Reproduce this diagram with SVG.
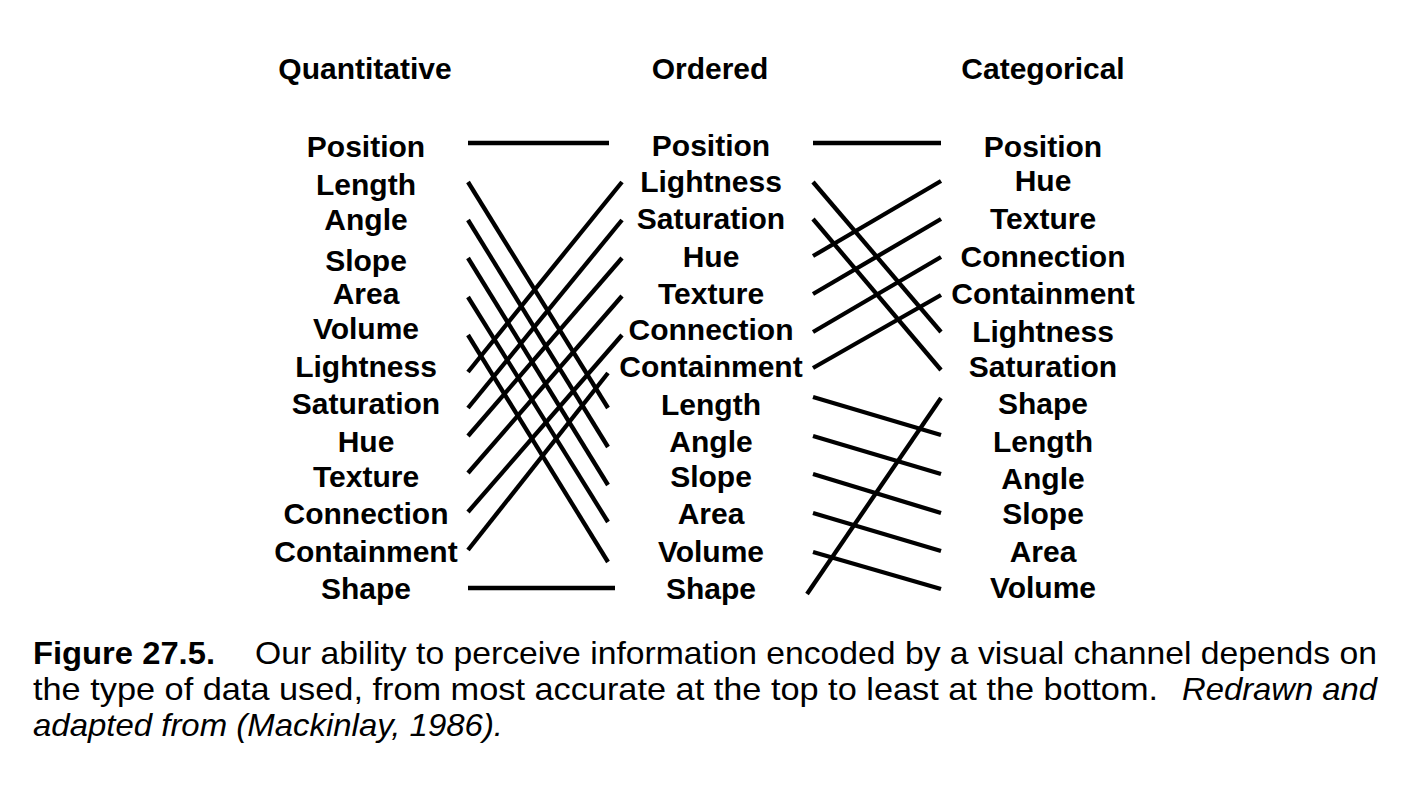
<svg xmlns="http://www.w3.org/2000/svg" width="1420" height="803" viewBox="0 0 1420 803">
  <style>
    .hdr { font-family: "Liberation Sans", Arial, sans-serif; font-weight: bold; font-size: 30px; fill: #000; text-anchor: middle; }
    .lbl { font-family: "Liberation Sans", Arial, sans-serif; font-weight: bold; font-size: 30px; fill: #000; text-anchor: middle; }
    .cap { font-family: "Liberation Sans", Arial, sans-serif; font-size: 32px; fill: #000; }
    .capb { font-weight: bold; }
    .capi { font-style: italic; }
    .edge { stroke: #000; stroke-width: 4.3; stroke-linecap: butt; fill: none; }
  </style>
  <rect width="1420" height="803" fill="#fff"/>

  <!-- column headers -->
  <g id="headers">
    <text class="hdr" x="365" y="79">Quantitative</text>
    <text class="hdr" x="710" y="79">Ordered</text>
    <text class="hdr" x="1043" y="79">Categorical</text>
  </g>

  <!-- Quantitative column -->
  <g id="q-position"><text class="lbl" x="366" y="157">Position</text></g>
  <g id="q-length"><text class="lbl" x="366" y="195">Length</text></g>
  <g id="q-angle"><text class="lbl" x="366" y="230">Angle</text></g>
  <g id="q-slope"><text class="lbl" x="366" y="271">Slope</text></g>
  <g id="q-area"><text class="lbl" x="366" y="304">Area</text></g>
  <g id="q-volume"><text class="lbl" x="366" y="339">Volume</text></g>
  <g id="q-lightness"><text class="lbl" x="366" y="377">Lightness</text></g>
  <g id="q-saturation"><text class="lbl" x="366" y="414">Saturation</text></g>
  <g id="q-hue"><text class="lbl" x="366" y="452">Hue</text></g>
  <g id="q-texture"><text class="lbl" x="366" y="487">Texture</text></g>
  <g id="q-connection"><text class="lbl" x="366" y="524">Connection</text></g>
  <g id="q-containment"><text class="lbl" x="366" y="562">Containment</text></g>
  <g id="q-shape"><text class="lbl" x="366" y="599">Shape</text></g>

  <!-- Ordered column -->
  <g id="o-position"><text class="lbl" x="711" y="156">Position</text></g>
  <g id="o-lightness"><text class="lbl" x="711" y="192">Lightness</text></g>
  <g id="o-saturation"><text class="lbl" x="711" y="229">Saturation</text></g>
  <g id="o-hue"><text class="lbl" x="711" y="267">Hue</text></g>
  <g id="o-texture"><text class="lbl" x="711" y="304">Texture</text></g>
  <g id="o-connection"><text class="lbl" x="711" y="340">Connection</text></g>
  <g id="o-containment"><text class="lbl" x="711" y="377">Containment</text></g>
  <g id="o-length"><text class="lbl" x="711" y="415">Length</text></g>
  <g id="o-angle"><text class="lbl" x="711" y="452">Angle</text></g>
  <g id="o-slope"><text class="lbl" x="711" y="487">Slope</text></g>
  <g id="o-area"><text class="lbl" x="711" y="524">Area</text></g>
  <g id="o-volume"><text class="lbl" x="711" y="562">Volume</text></g>
  <g id="o-shape"><text class="lbl" x="711" y="599">Shape</text></g>

  <!-- Categorical column -->
  <g id="c-position"><text class="lbl" x="1043" y="157">Position</text></g>
  <g id="c-hue"><text class="lbl" x="1043" y="191">Hue</text></g>
  <g id="c-texture"><text class="lbl" x="1043" y="229">Texture</text></g>
  <g id="c-connection"><text class="lbl" x="1043" y="267">Connection</text></g>
  <g id="c-containment"><text class="lbl" x="1043" y="304">Containment</text></g>
  <g id="c-lightness"><text class="lbl" x="1043" y="342">Lightness</text></g>
  <g id="c-saturation"><text class="lbl" x="1043" y="377">Saturation</text></g>
  <g id="c-shape"><text class="lbl" x="1043" y="414">Shape</text></g>
  <g id="c-length"><text class="lbl" x="1043" y="452">Length</text></g>
  <g id="c-angle"><text class="lbl" x="1043" y="489">Angle</text></g>
  <g id="c-slope"><text class="lbl" x="1043" y="524">Slope</text></g>
  <g id="c-area"><text class="lbl" x="1043" y="562">Area</text></g>
  <g id="c-volume"><text class="lbl" x="1043" y="598">Volume</text></g>

  <!-- links between rankings -->
  <g id="connectors" class="edge">
    <!-- quantitative to ordered -->
    <line x1="468" y1="143" x2="609" y2="143"/>
    <line x1="468" y1="182" x2="608" y2="408"/>
    <line x1="468" y1="220" x2="608" y2="447"/>
    <line x1="468" y1="258" x2="608" y2="485"/>
    <line x1="468" y1="297" x2="608" y2="522"/>
    <line x1="468" y1="335" x2="608" y2="562"/>
    <line x1="468" y1="372" x2="622" y2="182"/>
    <line x1="468" y1="408" x2="622" y2="220"/>
    <line x1="468" y1="436" x2="622" y2="258"/>
    <line x1="468" y1="473" x2="622" y2="296"/>
    <line x1="468" y1="512" x2="622" y2="335"/>
    <line x1="468" y1="550" x2="608" y2="373"/>
    <line x1="468" y1="588" x2="615" y2="588"/>
    <!-- ordered to categorical -->
    <line x1="813" y1="143" x2="941" y2="143"/>
    <line x1="813" y1="182" x2="941" y2="332"/>
    <line x1="813" y1="219" x2="941" y2="370"/>
    <line x1="813" y1="256" x2="941" y2="181"/>
    <line x1="813" y1="294" x2="941" y2="219"/>
    <line x1="813" y1="332" x2="941" y2="257"/>
    <line x1="813" y1="368" x2="941" y2="295"/>
    <line x1="813" y1="397" x2="941" y2="435"/>
    <line x1="813" y1="436" x2="941" y2="474"/>
    <line x1="813" y1="474" x2="941" y2="513"/>
    <line x1="813" y1="513" x2="941" y2="551"/>
    <line x1="813" y1="552" x2="941" y2="589"/>
    <line x1="807" y1="594" x2="941" y2="398"/>
  </g>

  <!-- figure caption -->
  <g id="caption" class="cap">
    <text class="capb" x="33" y="664" textLength="182" lengthAdjust="spacingAndGlyphs">Figure 27.5.</text>
    <text x="255" y="664" textLength="1122" lengthAdjust="spacingAndGlyphs">Our ability to perceive information encoded by a visual channel depends on</text>
    <text x="33" y="700" textLength="1125" lengthAdjust="spacingAndGlyphs">the type of data used, from most accurate at the top to least at the bottom.</text>
    <text class="capi" x="1182" y="700" textLength="195" lengthAdjust="spacingAndGlyphs">Redrawn and</text>
    <text class="capi" x="33" y="736" textLength="470" lengthAdjust="spacingAndGlyphs">adapted from (Mackinlay, 1986).</text>
  </g>
</svg>
